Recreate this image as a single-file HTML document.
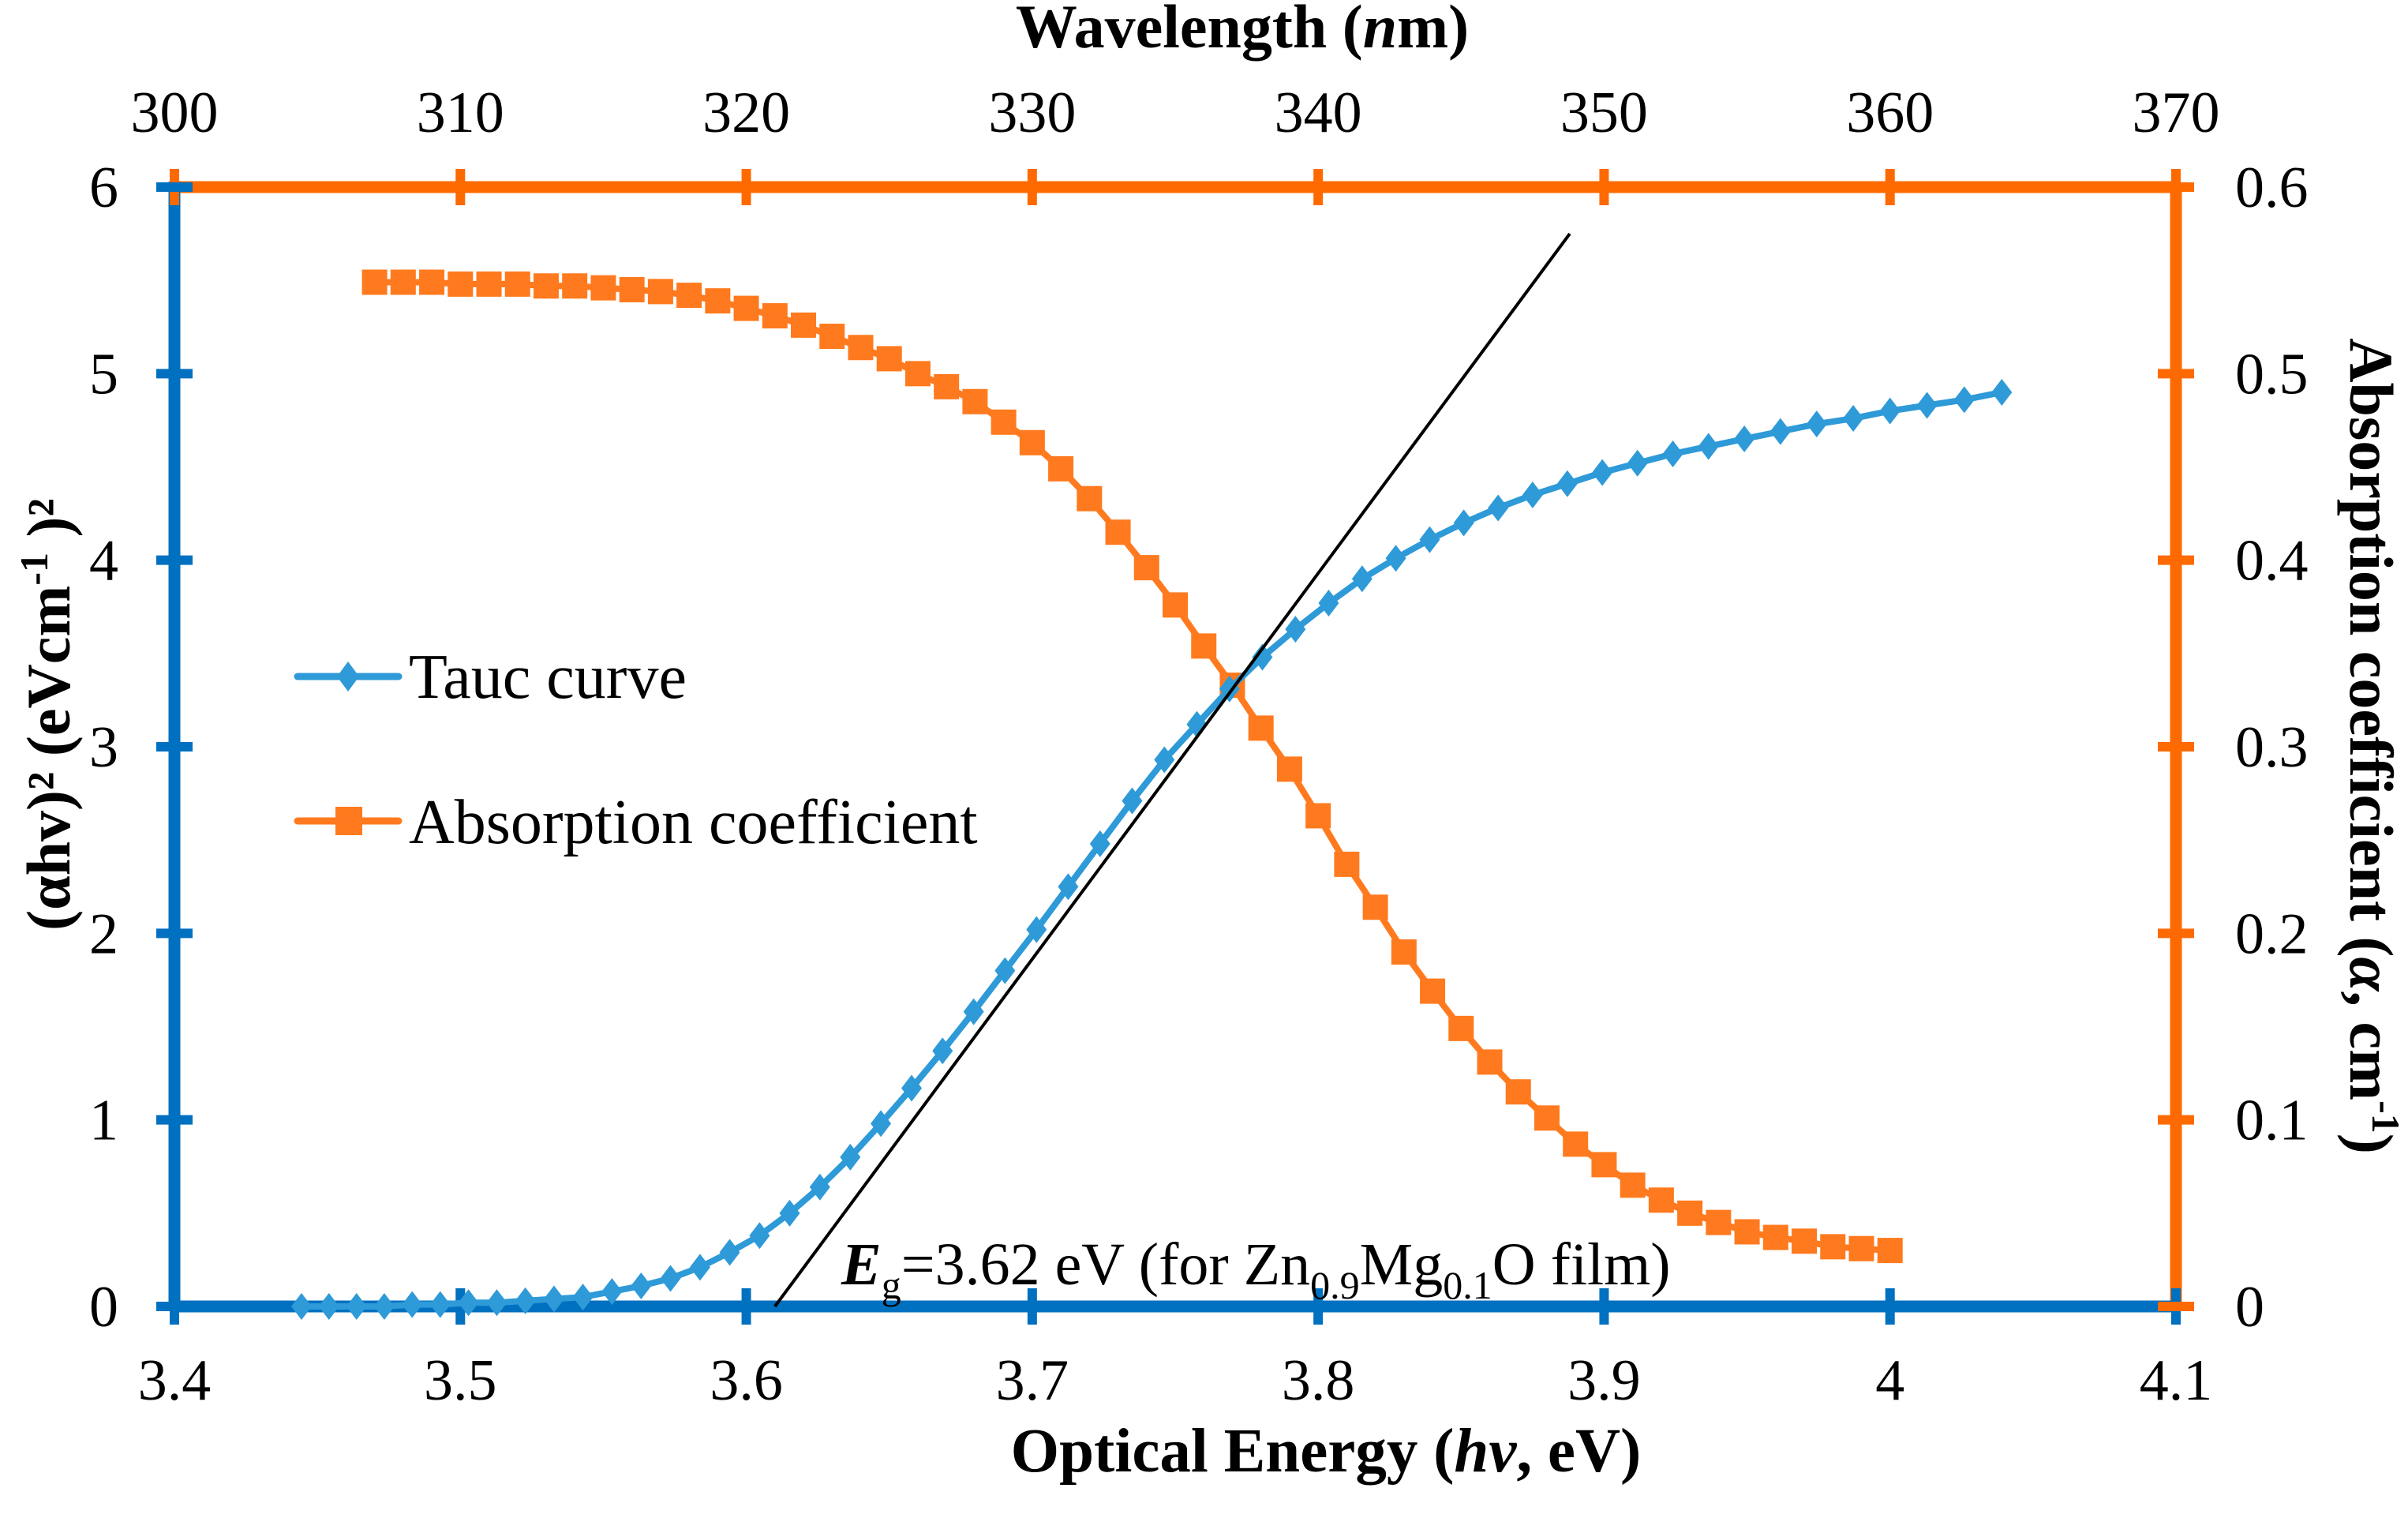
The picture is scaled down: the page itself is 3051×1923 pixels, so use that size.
<!DOCTYPE html>
<html><head><meta charset="utf-8"><style>
html,body{margin:0;padding:0;background:#fff}
svg{display:block}
text{font-family:"Liberation Serif",serif;fill:#000}
</style></head><body>
<svg id="chart" width="3051" height="1923" viewBox="0 0 3051 1923" xmlns="http://www.w3.org/2000/svg">
<g id="axes"></g>
<g id="marks"></g>
<g id="labels"></g>
</svg>
<script>
// ---- data ----
const wavelengths = [307,308,309,310,311,312,313,314,315,316,317,318,319,320,321,322,323,324,325,326,327,328,329,330,331,332,333,334,335,336,337,338,339,340,341,342,343,344,345,346,347,348,349,350,351,352,353,354,355,356,357,358,359,360];
const taucValues = [4.9,4.86,4.83,4.8,4.76,4.73,4.69,4.65,4.61,4.57,4.52,4.47,4.41,4.35,4.28,4.2,4.11,4.01,3.9,3.77,3.63,3.48,3.31,3.12,2.93,2.71,2.48,2.25,2.02,1.8,1.58,1.37,1.17,0.98,0.8,0.64,0.5,0.38,0.29,0.21,0.15,0.11,0.08,0.05,0.04,0.03,0.02,0.02,0.01,0.01,0,0,0,0];
const absorptionValues = [0.549,0.549,0.549,0.548,0.548,0.548,0.547,0.547,0.546,0.545,0.544,0.542,0.539,0.535,0.531,0.526,0.52,0.514,0.508,0.5,0.493,0.485,0.474,0.463,0.449,0.433,0.415,0.396,0.376,0.354,0.333,0.31,0.288,0.263,0.237,0.214,0.19,0.169,0.149,0.131,0.115,0.101,0.087,0.076,0.065,0.057,0.05,0.045,0.04,0.037,0.035,0.032,0.031,0.03];
const energyTicks = ["3.4","3.5","3.6","3.7","3.8","3.9","4","4.1"];
const wavelengthTicks = ["300","310","320","330","340","350","360","370"];
const leftTicks = ["0","1","2","3","4","5","6"];
const rightTicks = ["0","0.1","0.2","0.3","0.4","0.5","0.6"];
const tangentE = [3.61, 3.888];
const tangentV = [0, 5.75];

// ---- scales ----
const L=221,R=2757,T=237,B=1655;
const xE=e=>L+(e-3.4)/0.7*(R-L);
const xW=w=>L+(w-300)/70*(R-L);
const yL=v=>B-v/6*(B-T);
const yR=v=>B-v/0.6*(B-T);
const NS="http://www.w3.org/2000/svg";
function mk(tag,attrs,parent){const el=document.createElementNS(NS,tag);for(const k in attrs)el.setAttribute(k,attrs[k]);parent.appendChild(el);return el;}
const axes=document.getElementById('axes'),marks=document.getElementById('marks'),labels=document.getElementById('labels');
const BLUE="#0070c0",ORANGE="#ff6a00",BL2="#2e9ad8",OR2="#ff7a1e";

let a;
a=mk('line',{x1:L,y1:T,x2:R,y2:T,stroke:ORANGE,'stroke-width':15},axes);


a=mk('line',{x1:R,y1:T,x2:R,y2:B,stroke:ORANGE,'stroke-width':15},axes);


a=mk('line',{x1:L,y1:T-7,x2:L,y2:B,stroke:BLUE,'stroke-width':15},axes);


a=mk('line',{x1:L,y1:B,x2:R,y2:B,stroke:BLUE,'stroke-width':15},axes);



const FS=74;
energyTicks.forEach(t=>{const x=xE(+t);
 const tk=mk('line',{x1:x,y1:B-23,x2:x,y2:B+23,stroke:BLUE,'stroke-width':12},axes);
 
 
 const tx=mk('text',{x:x,y:B+118,'text-anchor':'middle','font-size':FS},labels);tx.textContent=t;
 
 
});
wavelengthTicks.forEach(t=>{const x=xW(+t);
 const tk=mk('line',{x1:x,y1:T-23,x2:x,y2:T+23,stroke:ORANGE,'stroke-width':12},axes);
 
 
 const tx=mk('text',{x:x,y:T-70,'text-anchor':'middle','font-size':FS},labels);tx.textContent=t;
 
 
});
leftTicks.forEach(t=>{const y=yL(+t);
 const tk=mk('line',{x1:L-23,y1:y,x2:L+23,y2:y,stroke:BLUE,'stroke-width':12},axes);
 
 
 const tx=mk('text',{x:150,y:y+25,'text-anchor':'end','font-size':FS},labels);tx.textContent=t;
 
 
});
rightTicks.forEach(t=>{const y=yR(+t);
 const tk=mk('line',{x1:R-23,y1:y,x2:R+23,y2:y,stroke:ORANGE,'stroke-width':12},axes);
 
 
 const tx=mk('text',{x:2832,y:y+25,'text-anchor':'start','font-size':FS},labels);tx.textContent=t;
 
 
});

let pts=wavelengths.map((w,i)=>xW(w)+','+yR(absorptionValues[i])).join(' ');
let pl=mk('polyline',{points:pts,fill:'none',stroke:OR2,'stroke-width':8},marks);


wavelengths.forEach((w,i)=>{const x=xW(w),y=yR(absorptionValues[i]);
 const r=mk('rect',{x:x-16,y:y-16,width:32,height:32,fill:OR2},marks);
 
 
});
pts=wavelengths.map((w,i)=>xE(1240/w)+','+yL(taucValues[i])).join(' ');
pl=mk('polyline',{points:pts,fill:'none',stroke:BL2,'stroke-width':8},marks);


wavelengths.forEach((w,i)=>{const x=xE(1240/w),y=yL(taucValues[i]);
 const d=mk('polygon',{points:`${x},${y-17} ${x+13},${y} ${x},${y+17} ${x-13},${y}`,fill:BL2},marks);
 
 
});
const tg=mk('line',{x1:xE(tangentE[0]),y1:yL(tangentV[0]),x2:xE(tangentE[1]),y2:yL(tangentV[1]),stroke:'#000','stroke-width':4},marks);


</script>
<svg style="position:absolute;left:0;top:0" width="3051" height="1923" viewBox="0 0 3051 1923" xmlns="http://www.w3.org/2000/svg">
<g>
 <g>
  <line x1="377" y1="857" x2="505" y2="857" stroke="#2e9ad8" stroke-width="9" stroke-linecap="round"/>
  <polygon points="441,838 455,857 441,876 427,857" fill="#2e9ad8"/>
  <text x="518" y="884" font-size="80" font-family="Liberation Serif, serif">Tauc curve</text>
 </g>
 <g>
  <line x1="377" y1="1040" x2="505" y2="1040" stroke="#ff7a1e" stroke-width="9" stroke-linecap="round"/>
  <rect x="425" y="1022" width="34" height="36" fill="#ff7a1e"/>
  <text x="518" y="1068" font-size="80" font-family="Liberation Serif, serif">Absorption coefficient</text>
 </g>
</g>
<text x="1066" y="1627" font-size="76" font-family="Liberation Serif, serif"><tspan font-weight="bold" font-style="italic">E</tspan><tspan font-size="50" dy="18">g</tspan><tspan dy="-18">=3.62 eV (for Zn</tspan><tspan font-size="50" dy="18">0.9</tspan><tspan dy="-18">Mg</tspan><tspan font-size="50" dy="18">0.1</tspan><tspan dy="-18">O film)</tspan></text>
<text x="1680" y="1864" text-anchor="middle" font-size="79" font-weight="bold" font-family="Liberation Serif, serif">Optical Energy (<tspan font-style="italic">hv</tspan>, eV)</text>
<text x="1574" y="60" text-anchor="middle" font-size="78" font-weight="bold" font-family="Liberation Serif, serif">Wavelength (<tspan font-style="italic">n</tspan>m)</text>
<text transform="translate(88,905) rotate(-90)" text-anchor="middle" font-size="78" font-weight="bold" font-family="Liberation Serif, serif">(αhv)² (eVcm<tspan font-size="50" dy="-28">-1</tspan><tspan dy="28"> )²</tspan></text>
<text transform="translate(2978,945) rotate(90)" text-anchor="middle" font-size="78" font-weight="bold" font-family="Liberation Serif, serif">Absorption coefficient (<tspan font-style="italic">α</tspan>, cm<tspan font-size="50" dy="-28">-1</tspan><tspan dy="28">)</tspan></text>
</svg>
</body></html>
